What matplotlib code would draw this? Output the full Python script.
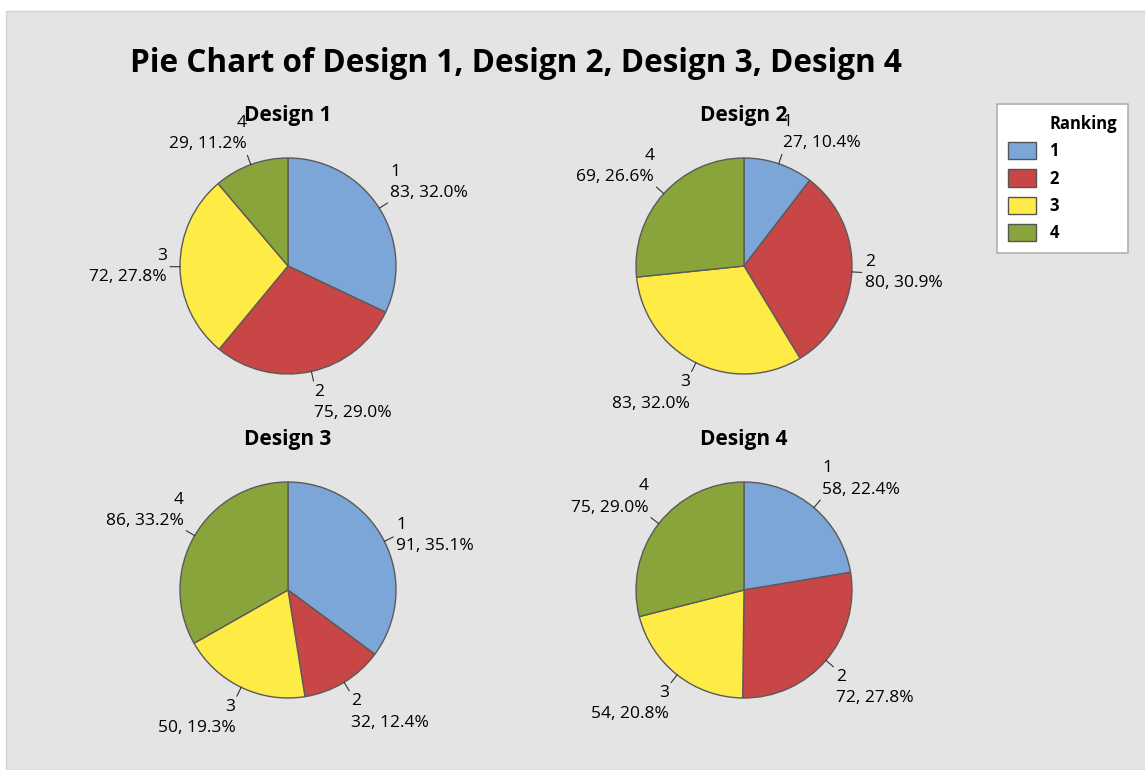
import numpy as np
import matplotlib
matplotlib.use('Agg')
import matplotlib.pyplot as plt
from matplotlib.patches import Rectangle, Patch

plt.rcParams['font.family'] = ['Open Sans', 'DejaVu Sans']

designs = ['Design 1', 'Design 2', 'Design 3', 'Design 4']
rankings = ['1', '2', '3', '4']
design1 = [83, 75, 72, 29]
design2 = [27, 80, 83, 69]
design3 = [91, 32, 50, 86]
design4 = [58, 72, 54, 75]
counts = [design1, design2, design3, design4]

colors = ['#7da6d8', '#c84646', '#ffeb46', '#89a43a']

W, H = 1145, 770
fig = plt.figure(figsize=(W/100, H/100), dpi=100)
fig.patch.set_facecolor('white')
fig.add_artist(Rectangle((6/W, 0), 1, 1-11/H, transform=fig.transFigure,
                         facecolor='#e4e4e4', edgecolor='#d4d4d4', lw=1, zorder=0))

fig.text(130/W, 1-64/H, 'Pie Chart of Design 1, Design 2, Design 3, Design 4',
         fontsize=22.7, fontweight='bold', ha='left', va='center')

centers = [(288, 266), (744, 266), (288, 590), (744, 590)]
rad = 108  # pie radius in pixels
lim = 1.6
side = 2*lim*rad

for k in range(4):
	cx, cy = centers[k]
	ax = fig.add_axes([(cx-side/2)/W, 1-(cy+side/2)/H, side/W, side/H])
	vals = counts[k]
	tot = sum(vals)
	wedges, _ = ax.pie(vals, colors=colors, startangle=90, counterclock=False,
	                   radius=1, wedgeprops=dict(edgecolor='#5a5a5a', linewidth=1))
	ax.set_xlim(-lim, lim)
	ax.set_ylim(-lim, lim)
	ax.set_aspect('equal')
	ax.axis('off')
	for w, lab, v in zip(wedges, rankings, vals):
		th = np.deg2rad((w.theta1+w.theta2)/2)
		x, y = np.cos(th), np.sin(th)
		ax.plot([x, 1.09*x], [y, 1.09*y], color='#333333', lw=0.8, clip_on=False)
		if y > 0.5:
			va = 'bottom'
		elif y < -0.5:
			va = 'top'
		else:
			va = 'center'
		ha = 'left' if x >= 0 else 'right'
		ax.text(1.12*x, 1.12*y, '%s\n%d, %.1f%%' % (lab, v, 100*v/tot),
		        ha=ha, va=va, multialignment=ha, fontsize=12.5, linespacing=1.45,
		        clip_on=False)
	fig.text(cx/W, 1-(cy-150)/H, designs[k], fontsize=15, fontweight='bold',
	         ha='center', va='center')

# first row holds the title, aligned with the entry labels
handles = [Patch(visible=False)] + [Patch(facecolor=c, edgecolor='#555555') for c in colors]
labels = ['Ranking'] + rankings
leg = fig.legend(handles, labels, loc='upper left',
                 bbox_to_anchor=(997/W, 1-104/H), frameon=True, fancybox=False,
                 edgecolor='#b0b0b0', facecolor='white', framealpha=1,
                 prop={'size': 12, 'weight': 'bold'}, handlelength=1.7,
                 handleheight=1.2, labelspacing=0.55, borderpad=0.65,
                 borderaxespad=0, handletextpad=0.8)
leg.get_frame().set_linewidth(1.2)

fig.savefig('out.png', dpi=100)
